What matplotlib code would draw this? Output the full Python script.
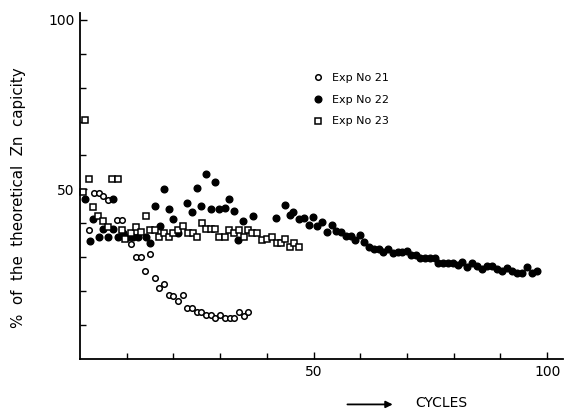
import numpy as np
import matplotlib.pyplot as plt

# Exp No 21 (open circles)
cyc21 = [2, 3, 4, 5, 6, 8, 9, 11, 12, 13, 14, 15, 16, 17, 18, 19, 20, 21,
         22, 23, 24, 25, 26, 27, 28, 29, 30, 31, 32, 33, 34, 35, 36]
cap21 = [38, 49, 49, 48, 47, 41, 41, 34, 30, 30, 26, 31, 24, 21, 22, 19, 18.6, 17,
         19, 15, 15, 14, 14, 13, 13, 12, 13, 12, 12, 12, 14, 12.7, 14]

# Exp No 22 (filled circles)
cyc22 = [1.1, 2.1, 2.8, 4.1, 4.9, 6, 7.1, 7.1, 8.1, 9.2, 10.3, 11.3, 12.4, 14.1,
         15, 16.1, 17.1, 18, 19.1, 19.9, 21, 22.9, 24, 25.1, 25.9, 27, 28.1, 28.9,
         29.8, 31, 31.9, 33, 33.8, 34.9, 37, 42, 43.9, 45, 45.6, 46.9, 48, 49,
         49.9, 50.7, 51.8, 52.9, 54, 54.8, 55.9, 57, 58, 58.9, 60, 60.8, 61.9, 63,
         64, 64.9, 66, 67, 68.1, 69, 70, 70.9, 71.9, 72.8, 73.9, 74.9, 76, 76.7,
         77.7, 78.8, 79.9, 80.9, 81.8, 82.9, 83.9, 85, 86.1, 87.2, 88.2, 89.3,
         90.4, 91.4, 92.5, 93.6, 94.6, 95.7, 96.8, 97.9]
cap22 = [47.2, 34.8, 41.3, 36, 38.3, 36, 47.2, 38.3, 36, 37.2, 36, 36, 36, 36,
         34.2, 45.1, 39.2, 50.1, 44.2, 41.3, 37.2, 46, 43.4, 50.4, 45.1, 54.6, 44.2, 52.2,
         44.2, 44.5, 47.2, 43.7, 35.1, 40.7, 42.2, 41.6, 45.4, 42.5, 43.4, 41.3, 41.6, 39.5,
         41.9, 39.2, 40.4, 37.5, 39.5, 37.8, 37.5, 36.3, 36.3, 35.1, 36.6, 34.5, 33, 32.4,
         32.4, 31.6, 32.4, 31.3, 31.6, 31.6, 31.9, 30.7, 30.7, 29.8, 29.8, 29.8, 29.8, 28.3,
         28.3, 28.3, 28.3, 27.7, 28.6, 27.1, 28.3, 27.4, 26.5, 27.4, 27.4, 26.5,
         26, 26.8, 26, 25.4, 25.4, 27.1, 25.4, 26]

# Exp No 23 (open squares)
cyc23 = [1.1, 0.6, 1.9, 2.8, 3.9, 4.9, 6, 6.9, 8.1, 9, 9.6, 10.9, 12, 13.1, 14.1,
         15, 16.1, 16.9, 18, 19.1, 19.9, 21, 22.1, 23.1, 24.2, 25.1, 26.1, 27, 28.1,
         28.9, 29.8, 31, 31.9, 33, 34, 35.1, 36, 36.8, 37.9, 39, 40, 41.1, 42.2, 43,
         43.9, 45, 45.8, 46.9]
cap23 = [70.5, 49.3, 53.1, 44.8, 42.2, 40.7, 38.9, 53.1, 53.1, 38.1, 35.4, 37.2, 38.9, 37.5, 42.2,
         38.1, 38.1, 36, 37.2, 36, 37.2, 38.1, 39.2, 37.2, 37.2, 36, 40.1, 38.3, 38.3,
         38.3, 36, 36, 38.1, 37.2, 38.1, 36, 38.1, 37.2, 37.2, 35.1, 35.4, 36, 34.2, 34.2,
         35.4, 33, 34.2, 33]

plt.rcParams['font.family'] = 'DejaVu Sans'

fig = plt.figure(figsize=(5.65, 4.11), dpi=100)
ax = fig.add_axes([0.1416, 0.1265, 0.855, 0.842])

ax.plot(cyc21, cap21, 'o', mfc='white', mec='black', mew=1.1, ms=4, label='Exp No 21', clip_on=False)
ax.plot(cyc22, cap22, 'o', mfc='black', mec='black', ms=4.8, label='Exp No 22', clip_on=False)
ax.plot(cyc23, cap23, 's', mfc='white', mec='black', mew=1.1, ms=4.3, label='Exp No 23', clip_on=False)

ax.set_xlim(0, 103.4)
ax.set_ylim(0, 102)
ax.spines['top'].set_visible(False)
ax.spines['right'].set_visible(False)
ax.spines['left'].set_linewidth(1.3)
ax.spines['bottom'].set_linewidth(1.3)

ax.set_xticks([50, 100])
ax.set_yticks([50, 100])
ax.set_xticks(np.arange(10, 101, 10), minor=True)
ax.set_yticks(np.arange(10, 101, 10), minor=True)
ax.tick_params(which='both', direction='in', labelsize=10, width=1)
ax.tick_params(which='major', length=5, pad=4)
ax.tick_params(which='minor', length=4)

fig.text(0.032, 0.52, '%  of  the  theoretical  Zn  capicity', fontsize=10.8,
         rotation=90, ha='center', va='center')

ax.legend(loc='upper left', bbox_to_anchor=(0.46, 0.855), frameon=False, fontsize=8,
          handletextpad=0.8, labelspacing=1.05, handlelength=1)

fig.text(0.735, 0.003, 'CYCLES', fontsize=10, ha='left', va='bottom')
ax.annotate('', xy=(0.70, 0.016), xytext=(0.61, 0.016), xycoords='figure fraction',
            arrowprops=dict(arrowstyle='-|>', color='black', lw=1.3, mutation_scale=10))

fig.savefig('out.png', dpi=100)
